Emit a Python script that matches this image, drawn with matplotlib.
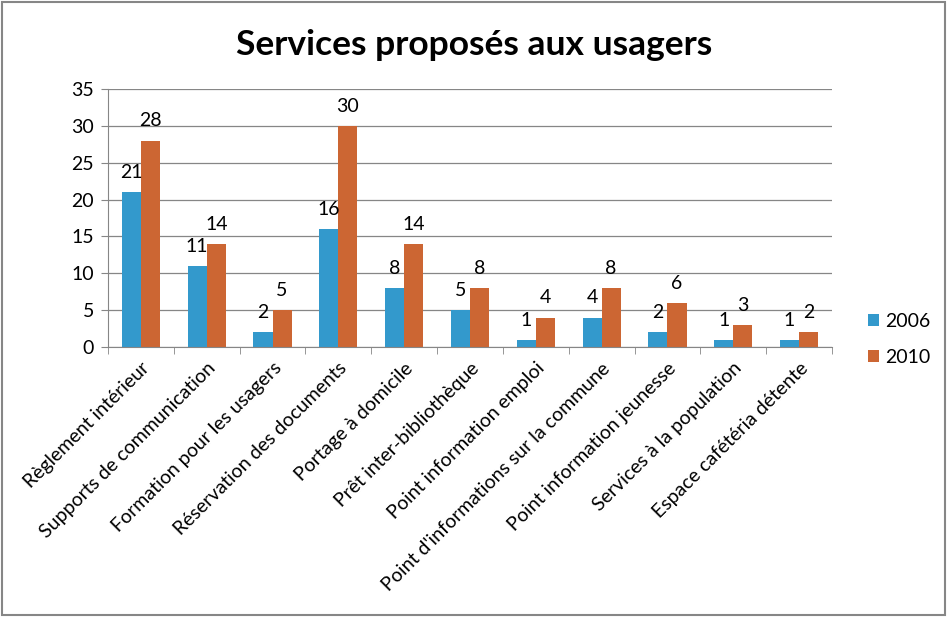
import numpy as np
import matplotlib.pyplot as plt
from matplotlib.patches import Rectangle

# Data
categories = ['Règlement intérieur', 'Supports de communication', 'Formation pour les usagers',
              'Réservation des documents', 'Portage à domicile', 'Prêt inter-bibliothèque',
              'Point information emploi', "Point d'informations sur la commune",
              'Point information jeunesse', 'Services à la population', 'Espace cafétéria détente']
values_2006 = [21, 11, 2, 16, 8, 5, 1, 4, 2, 1, 1]
values_2010 = [28, 14, 5, 30, 14, 8, 4, 8, 6, 3, 2]

plt.rcParams['font.family'] = ['Lato', 'DejaVu Sans']

blue = '#3399CC'
orange = '#CC6633'
grey = '#868686'

fig = plt.figure(figsize=(9.48, 6.17), dpi=100)
ax = fig.add_axes([0.1139, 0.4376, 0.7637, 0.4182])

x = np.arange(len(categories))
w = 0.29
b1 = ax.bar(x - w / 2, values_2006, w, color=blue, label='2006')
b2 = ax.bar(x + w / 2, values_2010, w, color=orange, label='2010')

# value labels above each bar
for bars in (b1, b2):
    for rect in bars:
        h = rect.get_height()
        ax.annotate(f'{h:g}', (rect.get_x() + rect.get_width() / 2, h),
                    xytext=(0, 8), textcoords='offset points',
                    ha='center', va='bottom', fontsize=14)

ax.set_xlim(-0.5, len(categories) - 0.5)
ax.set_ylim(0, 35)
ax.set_yticks(range(0, 36, 5))
ax.yaxis.grid(True, color=grey, linewidth=0.9)
ax.set_axisbelow(True)
ax.tick_params(axis='y', labelsize=14, length=5, color=grey, pad=5)

ax.set_xticks(x)
ax.set_xticklabels(categories, rotation=45, ha='right', rotation_mode='anchor', fontsize=14)
ax.tick_params(axis='x', length=0, pad=9)
ax.set_xticks(np.arange(-0.5, len(categories)), minor=True)
ax.tick_params(axis='x', which='minor', length=5, color=grey)

for side in ('top', 'right'):
    ax.spines[side].set_visible(False)
for side in ('left', 'bottom'):
    ax.spines[side].set_color(grey)

ax.legend(loc='center left', bbox_to_anchor=(1.025, 0.03), frameon=False,
          fontsize=14, handlelength=0.6, handleheight=0.6, labelspacing=1.0, handletextpad=0.3)

fig.text(0.5, 0.927, 'Services proposés aux usagers', ha='center', va='center',
         fontsize=25.5, fontweight='bold')

# outer chart border
fig.patches.append(Rectangle((0.002, 0.003), 0.995, 0.994, transform=fig.transFigure,
                             fill=False, edgecolor=grey, linewidth=1.5))

fig.savefig('out.png', dpi=100)
